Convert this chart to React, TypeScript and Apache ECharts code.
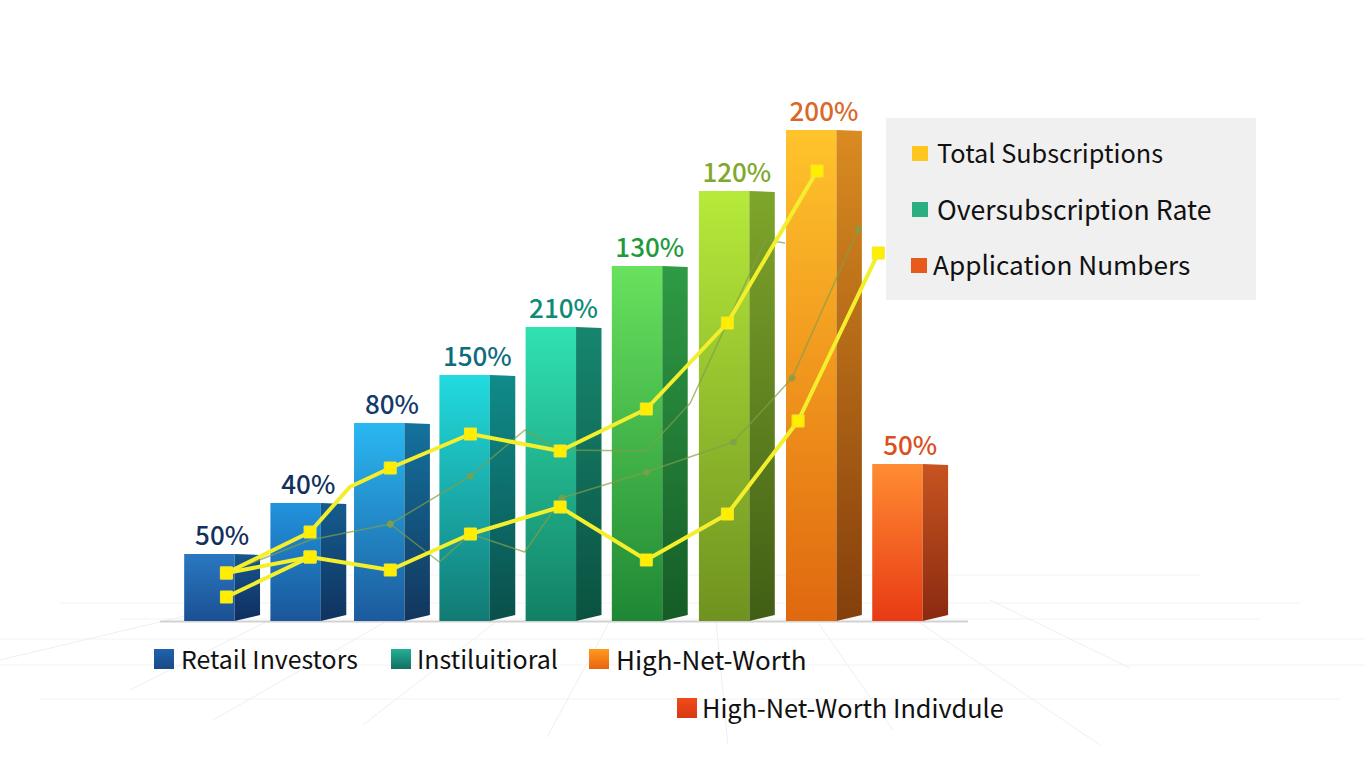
import React, { useEffect, useRef } from "react";
import * as echarts from "echarts";

// ---- data ----
const barLabels = ["50%", "40%", "80%", "150%", "210%", "130%", "120%", "200%", "50%"];
const barValues = [67, 118, 198, 246, 294, 355, 430, 491, 157];
const barSlots = [0, 1, 1.97, 2.96, 3.96, 4.96, 5.97, 6.98, 7.98];

const upperLine = [[0.05, 48], [1.02, 89], [1.48, 134], [1.95, 153], [2.88, 187], [3.92, 170], [4.92, 212], [5.86, 298], [6.9, 450]];
const upperLineMarkers = [0, 1, 3, 4, 5, 6, 7, 8];
const lowerLine = [[0.05, 48], [1.02, 64], [1.95, 51], [2.88, 87], [3.92, 114], [4.92, 61], [5.86, 107], [6.68, 200], [7.61, 368]];
const startLine = [[0.05, 24], [1.02, 64]];
const thinLineA = [[0.05, 48], [1.02, 81], [1.95, 97], [2.88, 145], [3.51, 191], [3.92, 171], [4.92, 170], [5.43, 218], [6.3, 381], [6.53, 378]];
const thinLineADots = [2, 3];
const thinLineB = [[1.95, 97], [2.52, 59], [2.88, 87], [3.51, 69], [3.94, 123], [4.92, 149], [5.93, 179], [6.61, 243], [7.38, 392]];
const thinLineBDots = [0, 4, 5, 6, 7, 8];

const panelLegend = ["Total Subscriptions", "Oversubscription Rate", "Application Numbers"];
const bottomLegend = ["Retail Investors", "Instiluitioral", "High-Net-Worth", "High-Net-Worth Indivdule"];

// ---- styles ----
const frontColors = [
  ["#2a78c2", "#1b5092"], ["#2193dd", "#1b5699"], ["#2ab8f2", "#1c5a9c"],
  ["#22dbe0", "#127a72"], ["#30e2b2", "#128064"], ["#68e25e", "#1f8734"],
  ["#b6ea3a", "#6f9220"], ["#ffc42c", "#e0680f"], ["#ff8c32", "#e83a14"],
];
const sideColors = [
  ["#17568f", "#0f2e5e"], ["#145c8e", "#10335f"], ["#14729e", "#12365e"],
  ["#108b8b", "#0a4f4a"], ["#17866f", "#0a5240"], ["#2f9b45", "#155c27"],
  ["#7fa62b", "#405e15"], ["#da8b20", "#843f0c"], ["#c75420", "#8a2a10"],
];
const labelColors = ["#14305c", "#14305c", "#123a6a", "#0f6b80", "#0f8a78", "#1f9a3c", "#80a82c", "#d9682a", "#d9501e"];
const panelSwatches = ["#ffc61e", "#2bae80", "#e85a1c"];
const panelTextX = [937, 937, 933];
const panelTextSize = [25.3, 26.6, 26.2];
const panelSwatchX = [912, 912, 911];
const panelRowY = [153, 209, 265];
const bottomSwatches = [["#1f62ad", "#1a4a86"], ["#22b095", "#136f62"], ["#ff9a1e", "#e9650f"], ["#f2491c", "#d83a12"]];
const bottomSwatchPos = [[154, 649], [391, 649], [589, 649], [677, 698]];
const bottomTextX = [181, 417, 616, 702];
const bottomTextSize = [24.9, 25, 26, 25.3];
const FONT = '"Noto Sans CJK SC", "Noto Sans", sans-serif';

const floorH = [[300, 1200, 575], [60, 1300, 603], [120, 1260, 619], [0, 1365, 639], [0, 1365, 665], [40, 1340, 699]];
const floorP = [
  [268, 621, 130, 690], [387, 621, 213, 720], [497, 621, 363, 725], [610, 621, 547, 737],
  [716, 621, 728, 745], [817, 621, 893, 730], [917, 621, 1100, 745], [990, 600, 1130, 668], [210, 610, 0, 660],
];

const vGrad = (c: string[]) => new echarts.graphic.LinearGradient(0, 0, 0, 1, [
  { offset: 0, color: c[0] }, { offset: 1, color: c[1] },
]);

const renderBar = (params: any, api: any) => {
  const i = params.dataIndex;
  const x = api.value(0);
  const top = api.coord([x, api.value(1)]);
  const base = api.coord([x, 0]);
  const u = api.size([1, 0])[0];
  const l = top[0] - 0.44 * u;
  const m = top[0] + 0.145 * u;
  const r = top[0] + 0.44 * u;
  return {
    type: "group",
    children: [
      { type: "rect", shape: { x: l, y: top[1], width: m - l, height: base[1] - top[1] }, style: { fill: vGrad(frontColors[i]) } },
      { type: "polygon", shape: { points: [[m, top[1]], [r, top[1] + 1], [r, base[1] - 6], [m, base[1]]] }, style: { fill: vGrad(sideColors[i]) } },
      {
        type: "text",
        style: {
          text: barLabels[i], x: top[0], y: top[1] - 20.5, fill: labelColors[i],
          font: `500 26px ${FONT}`, textAlign: "center", textVerticalAlign: "middle",
        },
      },
    ],
  };
};

const thickLine = (name: string, data: number[][], markers: number[] | null) => ({
  type: "line", name, data, z: 4,
  lineStyle: { color: "#f4ef2c", width: 4 },
  itemStyle: { color: "#ffee00", borderColor: "#f4e62a", borderWidth: 1 },
  symbol: "rect",
  symbolSize: (_v: any, p: any) => (!markers || markers.includes(p.dataIndex) ? 12 : 0),
  showAllSymbol: true,
});

const thinLine = (name: string, data: number[][], dots: number[]) => ({
  type: "line", name, data, z: 3,
  lineStyle: { color: "#7f9f4a", width: 1.5, opacity: 0.7 },
  itemStyle: { color: "#7f9f4a", opacity: 0.8 },
  symbol: "circle",
  symbolSize: (_v: any, p: any) => (dots.includes(p.dataIndex) ? 7 : 0),
  showAllSymbol: true,
});

export default function App() {
  const ref = useRef<HTMLDivElement>(null);
  useEffect(() => {
    document.body.style.margin = "0";
    const chart = echarts.init(ref.current!, undefined, { renderer: "svg" });
    const graphic: any[] = [];
    floorH.forEach(([a, b, y]) => graphic.push({
      type: "line", z: 0, shape: { x1: a, y1: y, x2: b, y2: y }, style: { stroke: "#f3f3f3", lineWidth: 1 },
    }));
    floorP.forEach(([x1, y1, x2, y2]) => graphic.push({
      type: "line", z: 0, shape: { x1, y1, x2, y2 }, style: { stroke: "#efefef", lineWidth: 1 },
    }));
    graphic.push({ type: "line", z: 1, shape: { x1: 160, y1: 621.5, x2: 968, y2: 621.5 }, style: { stroke: "#d2d2d2", lineWidth: 2 } });
    graphic.push({ type: "rect", z: 1, shape: { x: 886, y: 118, width: 370, height: 182 }, style: { fill: "#f0f0f0" } });
    panelLegend.forEach((t, i) => {
      graphic.push({ type: "rect", z: 5, shape: { x: panelSwatchX[i], y: panelRowY[i] - 7, width: 16, height: 15 }, style: { fill: panelSwatches[i] } });
      graphic.push({ type: "text", z: 5, style: { text: t, x: panelTextX[i], y: panelRowY[i] - 1, fill: "#111111", font: `${panelTextSize[i]}px ${FONT}`, textVerticalAlign: "middle" } });
    });
    bottomLegend.forEach((t, i) => {
      const [sx, sy] = bottomSwatchPos[i];
      graphic.push({ type: "rect", z: 5, shape: { x: sx, y: sy, width: 20, height: 20 }, style: { fill: vGrad(bottomSwatches[i]) } });
      graphic.push({ type: "text", z: 5, style: { text: t, x: bottomTextX[i], y: sy + 9, fill: "#111111", font: `${bottomTextSize[i]}px ${FONT}`, textVerticalAlign: "middle" } });
    });

    chart.setOption({
      animation: false,
      backgroundColor: "#ffffff",
      grid: { left: 179, top: 121, width: 776, height: 500 },
      xAxis: { type: "value", min: -0.5, max: 8.5, show: false },
      yAxis: { type: "value", min: 0, max: 500, show: false },
      graphic,
      series: [
        {
          type: "custom", name: "Bars", z: 2, renderItem: renderBar,
          encode: { x: 0, y: 1 }, clip: false,
          data: barValues.map((v, i) => [barSlots[i], v]),
        },
        thinLine("Oversubscription Rate", thinLineA, thinLineADots),
        thinLine("Application Numbers", thinLineB, thinLineBDots),
        thickLine("Total Subscriptions", upperLine, upperLineMarkers),
        thickLine("Subscriptions lower", lowerLine, null),
        thickLine("Subscriptions start", startLine, null),
      ],
    });
    return () => chart.dispose();
  }, []);
  return <div ref={ref} style={{ position: "fixed", left: 0, top: 0, width: 1365, height: 768 }} />;
}
